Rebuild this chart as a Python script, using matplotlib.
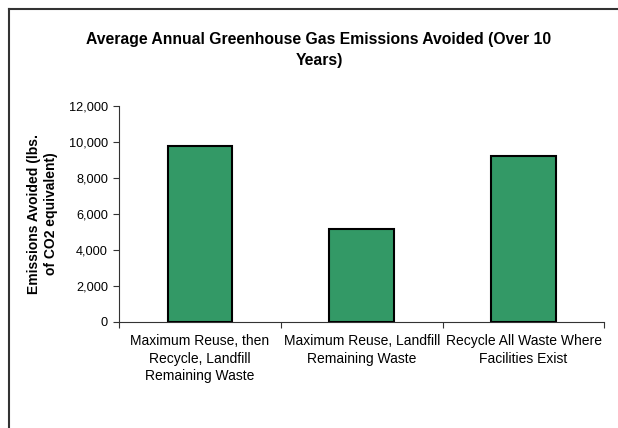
import matplotlib.pyplot as plt
import numpy as np
from matplotlib.ticker import FuncFormatter

plt.rcParams['font.family'] = ['Liberation Sans', 'DejaVu Sans']

# Data
scenarios = ["Maximum Reuse, then\nRecycle, Landfill\nRemaining Waste",
             "Maximum Reuse, Landfill\nRemaining Waste",
             "Recycle All Waste Where\nFacilities Exist"]
emissions = [9750, 5150, 9200]

fig = plt.figure(figsize=(6.18, 4.28), dpi=100)
ax = fig.add_axes([0.1926, 0.2484, 0.7855, 0.5039])

x = np.arange(len(scenarios))
ax.bar(x, emissions, width=0.4, color='#339966', edgecolor='black', linewidth=1.5, zorder=3)

ax.set_xlim(-0.5, len(scenarios) - 0.5)
ax.set_ylim(0, 12000)
ax.set_yticks(np.arange(0, 12001, 2000))
ax.yaxis.set_major_formatter(FuncFormatter(lambda v, p: f"{int(v):,}"))

# tick marks between categories, labels centred under bars
ax.set_xticks(np.arange(-0.5, len(scenarios)), labels=[])
ax.set_xticks(x, labels=scenarios, minor=True)
ax.tick_params(axis='x', which='minor', length=0, pad=9, labelsize=10)
ax.tick_params(axis='x', which='major', length=4, direction='out', color='#333333')
ax.tick_params(axis='y', length=4, direction='out', labelsize=9.2, color='#333333', pad=4)
for t in ax.get_xticklabels(minor=True):
    t.set_linespacing(1.32)

for side in ['top', 'right']:
    ax.spines[side].set_visible(False)
ax.spines['left'].set_color('#333333')
ax.spines['bottom'].set_color('#333333')

ax.set_ylabel("Emissions Avoided (lbs.\nof CO2 equivalent)", fontsize=10, fontweight='bold',
              labelpad=8, linespacing=1.25)

fig.text(319 / 618, 0.884, "Average Annual Greenhouse Gas Emissions Avoided (Over 10\nYears)",
         ha='center', va='center', fontsize=11.3, fontweight='bold', linespacing=1.5)

# chart area border (cropped at right and bottom)
fig.add_artist(plt.Line2D([8.5 / 618, 1.0], [1 - 8.5 / 428, 1 - 8.5 / 428], color='#333333', lw=1.5, transform=fig.transFigure))
fig.add_artist(plt.Line2D([8.5 / 618, 8.5 / 618], [0, 1 - 8.5 / 428], color='#333333', lw=1.5, transform=fig.transFigure))

fig.savefig("out.png", dpi=100)
